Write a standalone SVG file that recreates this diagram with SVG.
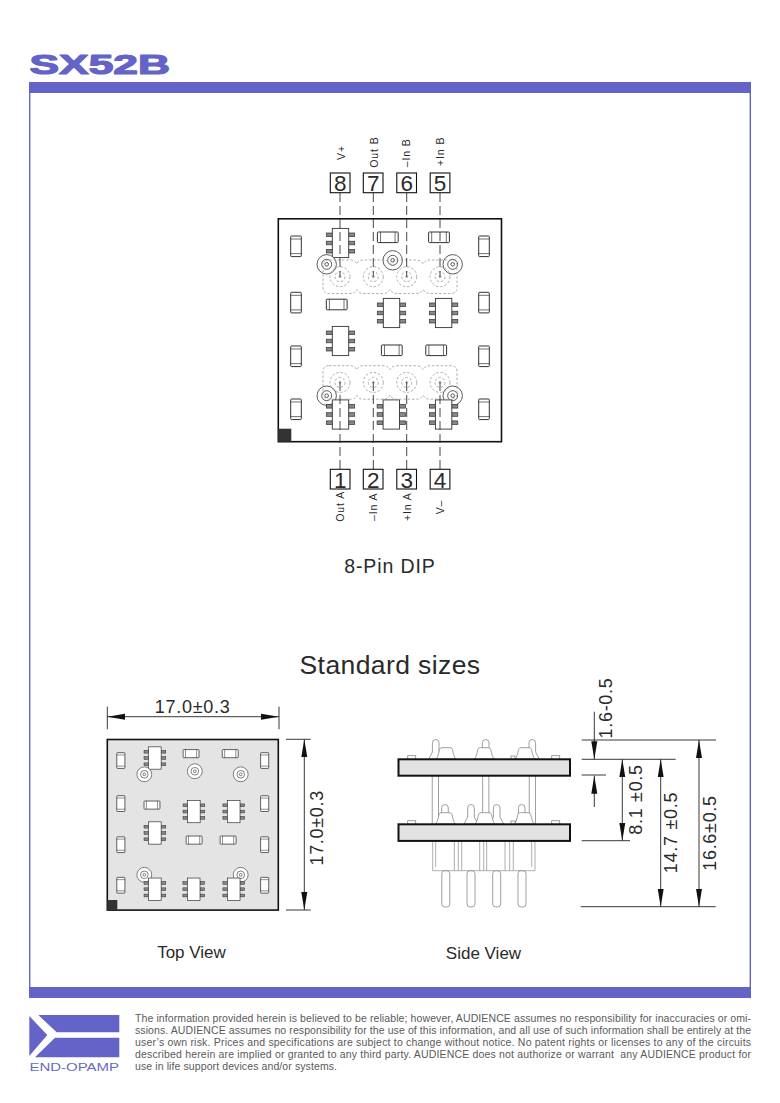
<svg xmlns="http://www.w3.org/2000/svg" xmlns:xlink="http://www.w3.org/1999/xlink" width="780" height="1103" viewBox="0 0 780 1103">
<style>
text{font-family:"Liberation Sans",Arial,sans-serif;fill:#2a2a2a}
.pur{fill:#6464c8}
.body{fill:#fff;stroke:#333;stroke-width:.9}
.lead{fill:#888;stroke:#333;stroke-width:.7}
.cap{fill:#fff;stroke:#333;stroke-width:1}
.thin{fill:none;stroke:#333;stroke-width:.7}
.ring{fill:#fff;stroke:#333;stroke-width:.8}
.dot{fill:none;stroke:#999;stroke-width:.8;stroke-dasharray:2.5 1.8}
.pinl{fill:none;stroke:#333;stroke-width:.9;stroke-dasharray:9 4}
.dim{fill:none;stroke:#222;stroke-width:.9}
.arr{marker-start:url(#ah);marker-end:url(#ah)}
.arrE{marker-end:url(#ah)}
.sd{fill:#fff;stroke:#888;stroke-width:.8}
.sl{fill:none;stroke:#999;stroke-width:.8}
.pcb{fill:#e2e2e2;stroke:#111;stroke-width:2}
.pn{font-size:22.5px;text-anchor:middle}
.lb{font-size:10.5px;letter-spacing:.9px}
.dt{font-size:18px;letter-spacing:.7px}
</style>
<defs>
<marker id="ah" markerUnits="userSpaceOnUse" markerWidth="20" markerHeight="8" refX="18" refY="4" orient="auto-start-reverse"><path d="M0,1 L18,4 L0,7Z" fill="#111"/></marker>
<g id="ic">
<rect class="lead" x="-14.2" y="-10" width="6" height="3.6"/><rect class="lead" x="-14.2" y="-1.8" width="6" height="3.6"/><rect class="lead" x="-14.2" y="6.4" width="6" height="3.6"/>
<rect class="lead" x="8.2" y="-10" width="6" height="3.6"/><rect class="lead" x="8.2" y="-1.8" width="6" height="3.6"/><rect class="lead" x="8.2" y="6.4" width="6" height="3.6"/>
<rect class="body" x="-8.2" y="-14.6" width="16.4" height="29.2"/>
</g>
<g id="capv"><rect class="cap" x="-5.3" y="-10.3" width="10.6" height="20.6" rx=".8"/><path class="thin" d="M-5.3,-7.3H5.3M-5.3,7.3H5.3"/></g>
<g id="caph"><rect class="cap" x="-10.4" y="-5.3" width="20.8" height="10.6" rx=".8"/><path class="thin" d="M-7.3,-5.3V5.3M7.3,-5.3V5.3"/></g>
<g id="ringc"><circle class="ring" r="9.7"/><circle class="ring" r="5"/><circle class="ring" r="1.8"/></g>
<g id="pad"><circle class="dot" r="10"/><circle class="dot" r="5"/><circle cx="0" cy="0" r="1" fill="none" stroke="#888" stroke-width=".7"/></g>
<path id="blob" class="dot" d="M329,260H350Q355,260 356.7,264Q358.5,260 363,260H383Q388,260 390,264Q392,260 397,260H416Q421,260 423.3,264Q425,260 430,260H451Q457,260 457,266V287.5Q457,293.5 451,293.5H430Q425,293.5 423.3,289.5Q421,293.5 416,293.5H397Q392,293.5 390,289.5Q388,293.5 383,293.5H363Q358.5,293.5 356.7,289.5Q355,293.5 350,293.5H329Q323,293.5 323,287.5V266Q323,260 329,260Z"/>
<g id="parts">
<use href="#capv" x="296" y="246.3"/><use href="#capv" x="296" y="302.6"/><use href="#capv" x="296" y="356.3"/><use href="#capv" x="296" y="409.3"/>
<use href="#capv" x="484" y="246.3"/><use href="#capv" x="484" y="302.6"/><use href="#capv" x="484" y="356.3"/><use href="#capv" x="484" y="409.3"/>
<use href="#caph" x="387.8" y="237.3"/><use href="#caph" x="439" y="237.3"/><use href="#caph" x="336.7" y="304.5"/><use href="#caph" x="391.8" y="350.3"/><use href="#caph" x="436.2" y="350.3"/>
<use href="#ringc" x="326.7" y="395.7"/><use href="#ringc" x="452.7" y="395.7"/>
<use href="#ic" x="340.5" y="243"/><use href="#ic" x="391.5" y="313"/><use href="#ic" x="443.6" y="313"/><use href="#ic" x="340.5" y="341"/>
<use href="#ic" x="340.5" y="414.5"/><use href="#ic" x="391.3" y="414.5"/><use href="#ic" x="443.6" y="414.5"/>
<use href="#ringc" x="326.7" y="264.3"/><use href="#ringc" x="392.7" y="260.3"/><use href="#ringc" x="452.7" y="264.3"/>
</g>
<g id="spin"><path class="sd" d="M-7,0L-3.3,-7V-16.2A3.3,3.3 0 0 1 3.3,-16.2V-7L7,0Z"/></g>
<g id="sic"><path class="sd" d="M-10,0C-8,-2 -7.5,-5 -6.5,-9.5Q-6,-11.3 -4,-11.3H4Q6,-11.3 6.5,-9.5C7.5,-5 8,-2 10,0Z"/></g>
<g id="srod"><rect class="sd" x="-3.1" y="0" width="6.2" height="48.6"/></g>
<rect id="spost" class="sd" x="-4" y="0" width="8" height="36.3" rx="3"/>
</defs>

<g id="page-frame">
<rect width="780" height="1103" fill="#fff"/>
<text id="title" x="29.5" y="73.8" font-size="27" font-weight="700" textLength="140.5" lengthAdjust="spacingAndGlyphs" style="fill:#6464c8;stroke:#6464c8;stroke-width:1.2px;stroke-linejoin:round">SX52B</text>
<rect class="pur" x="29" y="82" width="722" height="11"/>
<rect class="pur" x="29" y="987" width="722" height="11"/>
<path d="M29.7,93V987M750.3,93V987" fill="none" stroke="#6464c8" stroke-width="1.4"/>
</g>

<g id="main-board">
<rect x="278.3" y="218.8" width="223.2" height="222.9" fill="#fff" stroke="#111" stroke-width="1.6"/>
<use href="#parts"/>
<use href="#blob"/><use href="#blob" y="105.7"/>
<use href="#pad" x="340" y="276.7"/><use href="#pad" x="373.3" y="276.7"/><use href="#pad" x="406.7" y="276.7"/><use href="#pad" x="440" y="276.7"/>
<use href="#pad" x="340" y="382.4"/><use href="#pad" x="373.3" y="382.4"/><use href="#pad" x="406.7" y="382.4"/><use href="#pad" x="440" y="382.4"/>
<rect x="278.3" y="428.7" width="13" height="13" fill="#333"/>
</g>

<g id="connectors">
<path class="pinl" d="M340,193V277M373.3,193V277M406.7,193V277M440,193V277"/>
<path class="pinl" d="M340,469V382M373.3,469V382M406.7,469V382M440,469V382"/>
</g>

<g id="pin-8"><rect x="330.3" y="173" width="19.7" height="19.7" fill="#fff" stroke="#111" stroke-width="1.1"/><text class="pn" x="340.2" y="191">8</text><text class="lb" transform="translate(345,160) rotate(-90)">V+</text></g>
<g id="pin-7"><rect x="363.3" y="173" width="19.7" height="19.7" fill="#fff" stroke="#111" stroke-width="1.1"/><text class="pn" x="373.2" y="191">7</text><text class="lb" transform="translate(378.3,167.7) rotate(-90)">Out B</text></g>
<g id="pin-6"><rect x="396.8" y="173" width="19.7" height="19.7" fill="#fff" stroke="#111" stroke-width="1.1"/><text class="pn" x="406.7" y="191">6</text><text class="lb" transform="translate(410,167.3) rotate(-90)">–In B</text></g>
<g id="pin-5"><rect x="430.2" y="173" width="19.7" height="19.7" fill="#fff" stroke="#111" stroke-width="1.1"/><text class="pn" x="440" y="191">5</text><text class="lb" transform="translate(444,166) rotate(-90)">+In B</text></g>
<g id="pin-1"><rect x="330.3" y="469.3" width="19.7" height="19.7" fill="#fff" stroke="#111" stroke-width="1.1"/><text class="pn" x="340.2" y="487.7">1</text><text class="lb" transform="translate(344,521.7) rotate(-90)">Out A</text></g>
<g id="pin-2"><rect x="363.3" y="469.3" width="19.7" height="19.7" fill="#fff" stroke="#111" stroke-width="1.1"/><text class="pn" x="373.2" y="487.7">2</text><text class="lb" transform="translate(377.3,521) rotate(-90)">–In A</text></g>
<g id="pin-3"><rect x="396.8" y="469.3" width="19.7" height="19.7" fill="#fff" stroke="#111" stroke-width="1.1"/><text class="pn" x="406.7" y="487.7">3</text><text class="lb" transform="translate(410.7,521) rotate(-90)">+In A</text></g>
<g id="pin-4"><rect x="430.2" y="469.3" width="19.7" height="19.7" fill="#fff" stroke="#111" stroke-width="1.1"/><text class="pn" x="440" y="487.7">4</text><text class="lb" transform="translate(444,514.3) rotate(-90)">V–</text></g>

<text x="390" y="573" font-size="19.5" text-anchor="middle" letter-spacing=".9">8-Pin DIP</text>
<text x="390" y="674" font-size="26.5" text-anchor="middle" letter-spacing=".4">Standard sizes</text>

<g id="top-view">
<rect x="107.3" y="739.5" width="171" height="170.6" fill="#e4e4e4" stroke="#111" stroke-width="1.6"/>
<use href="#parts" transform="translate(107.3,739.5) scale(.765) translate(-278.3,-218.8)"/>
<rect x="107.3" y="900" width="10" height="10" fill="#333"/>
<path class="dim" d="M107.3,706.7V729.3M279,706.7V729.3M286,739.3H310.7M286,910H310.7"/>
<path class="dim arr" d="M107.3,716.7H279"/>
<path class="dim arr" d="M304.3,739.3V910"/>
<text class="dt" x="192.6" y="712.7" text-anchor="middle">17.0±0.3</text>
<text class="dt" text-anchor="middle" transform="translate(323.3,827.8) rotate(-90)">17.0±0.3</text>
<text x="191.5" y="958" font-size="17" text-anchor="middle">Top View</text>
</g>

<g id="side-view">
<use href="#srod" x="435.3" y="775.7"/><use href="#srod" x="485.8" y="775.7"/><use href="#srod" x="532.3" y="775.7"/>
<use href="#spin" x="435.7" y="759"/><use href="#spin" x="485.7" y="759"/><use href="#spin" x="532.3" y="759"/>
<use href="#sic" x="446" y="759"/><use href="#sic" x="484.3" y="759"/><use href="#sic" x="525" y="759"/>
<rect class="sd" x="407.7" y="755.7" width="8" height="3.6"/><rect class="sd" x="551.7" y="755.7" width="8" height="3.6"/><rect class="sd" x="511" y="756" width="4" height="3.3"/>
<use href="#spin" x="445" y="824"/><use href="#spin" x="521.7" y="824"/><use href="#spin" x="471" y="824"/><use href="#spin" x="496.7" y="824"/>
<use href="#sic" x="445.5" y="824"/><use href="#sic" x="485" y="824"/><use href="#sic" x="524.3" y="824"/>
<rect class="sd" x="407.7" y="820.7" width="8" height="3.6"/><rect class="sd" x="551.7" y="820.7" width="8" height="3.6"/><rect class="sd" x="511" y="821" width="4" height="3.3"/>
<rect class="pcb" x="398.5" y="759.3" width="171.5" height="16.4"/>
<rect class="pcb" x="398.5" y="824.3" width="171.5" height="16.6"/>
<use href="#spost" x="445.8" y="870.7"/><use href="#spost" x="471" y="870.7"/><use href="#spost" x="496.7" y="870.7"/><use href="#spost" x="522" y="870.7"/>
<path class="sl" d="M432.7,842V870.7H535V842M435.7,842V867M454.3,842V870.7M458.3,842V870.7M461.7,842V870.7M479.7,842V870.7M483.7,842V870.7M486.7,842V870.7M505,842V870.7M509.7,842V870.7M513.3,842V870.7M531.7,842V867"/>
<path class="dim" d="M581.7,740H716M581.7,759.3H675.7M581.7,775H606M581.7,840.7H630M580.7,906.7H715.7"/>
<path class="dim arrE" d="M594.3,711.7V759.3"/>
<path class="dim arrE" d="M594.3,807V775.7"/>
<path class="dim arr" d="M622.3,759.3V840.7"/>
<path class="dim arr" d="M660.7,759.3V906.7"/>
<path class="dim arr" d="M699,740V906.7"/>
<text class="dt" text-anchor="middle" transform="translate(611.7,708) rotate(-90)">1.6-0.5</text>
<text class="dt" text-anchor="middle" transform="translate(641.7,799.5) rotate(-90)">8.1 ±0.5</text>
<text class="dt" text-anchor="middle" transform="translate(677.3,832.5) rotate(-90)">14.7 ±0.5</text>
<text class="dt" text-anchor="middle" transform="translate(716,833) rotate(-90)">16.6±0.5</text>
<text x="483.5" y="959" font-size="17" text-anchor="middle">Side View</text>
</g>

<g id="footer">
<g id="logo" class="pur">
<path d="M38.3,1015H119.3V1032.3H56.7Z"/>
<path d="M29.3,1016L47.3,1035L29.3,1056Z"/>
<path d="M55,1037.7H119.3V1057.3H35Z"/>
</g>
<text x="29.5" y="1070.7" font-size="10.5" textLength="89.5" lengthAdjust="spacingAndGlyphs" style="fill:#6a6ac4">END-OPAMP</text>
<g font-size="10.5">
<text x="135" y="1022" textLength="616" lengthAdjust="spacing" style="fill:#5a5a5a">The information provided herein is believed to be reliable; however, AUDIENCE assumes no responsibility for inaccuracies or omi-</text>
<text x="135" y="1034" textLength="616" lengthAdjust="spacing" style="fill:#5a5a5a">ssions. AUDIENCE assumes no responsibility for the use of this information, and all use of such information shall be entirely at the</text>
<text x="135" y="1046" textLength="616" lengthAdjust="spacing" style="fill:#5a5a5a">user’s own risk. Prices and specifications are subject to change without notice. No patent rights or licenses to any of the circuits</text>
<text x="135" y="1058" textLength="616" lengthAdjust="spacing" style="fill:#5a5a5a" xml:space="preserve">described herein are implied or granted to any third party. AUDIENCE does not authorize or warrant  any AUDIENCE product for</text>
<text x="135" y="1070" textLength="202" lengthAdjust="spacing" style="fill:#5a5a5a">use in life support devices and/or systems.</text>
</g>
</g>
</svg>
